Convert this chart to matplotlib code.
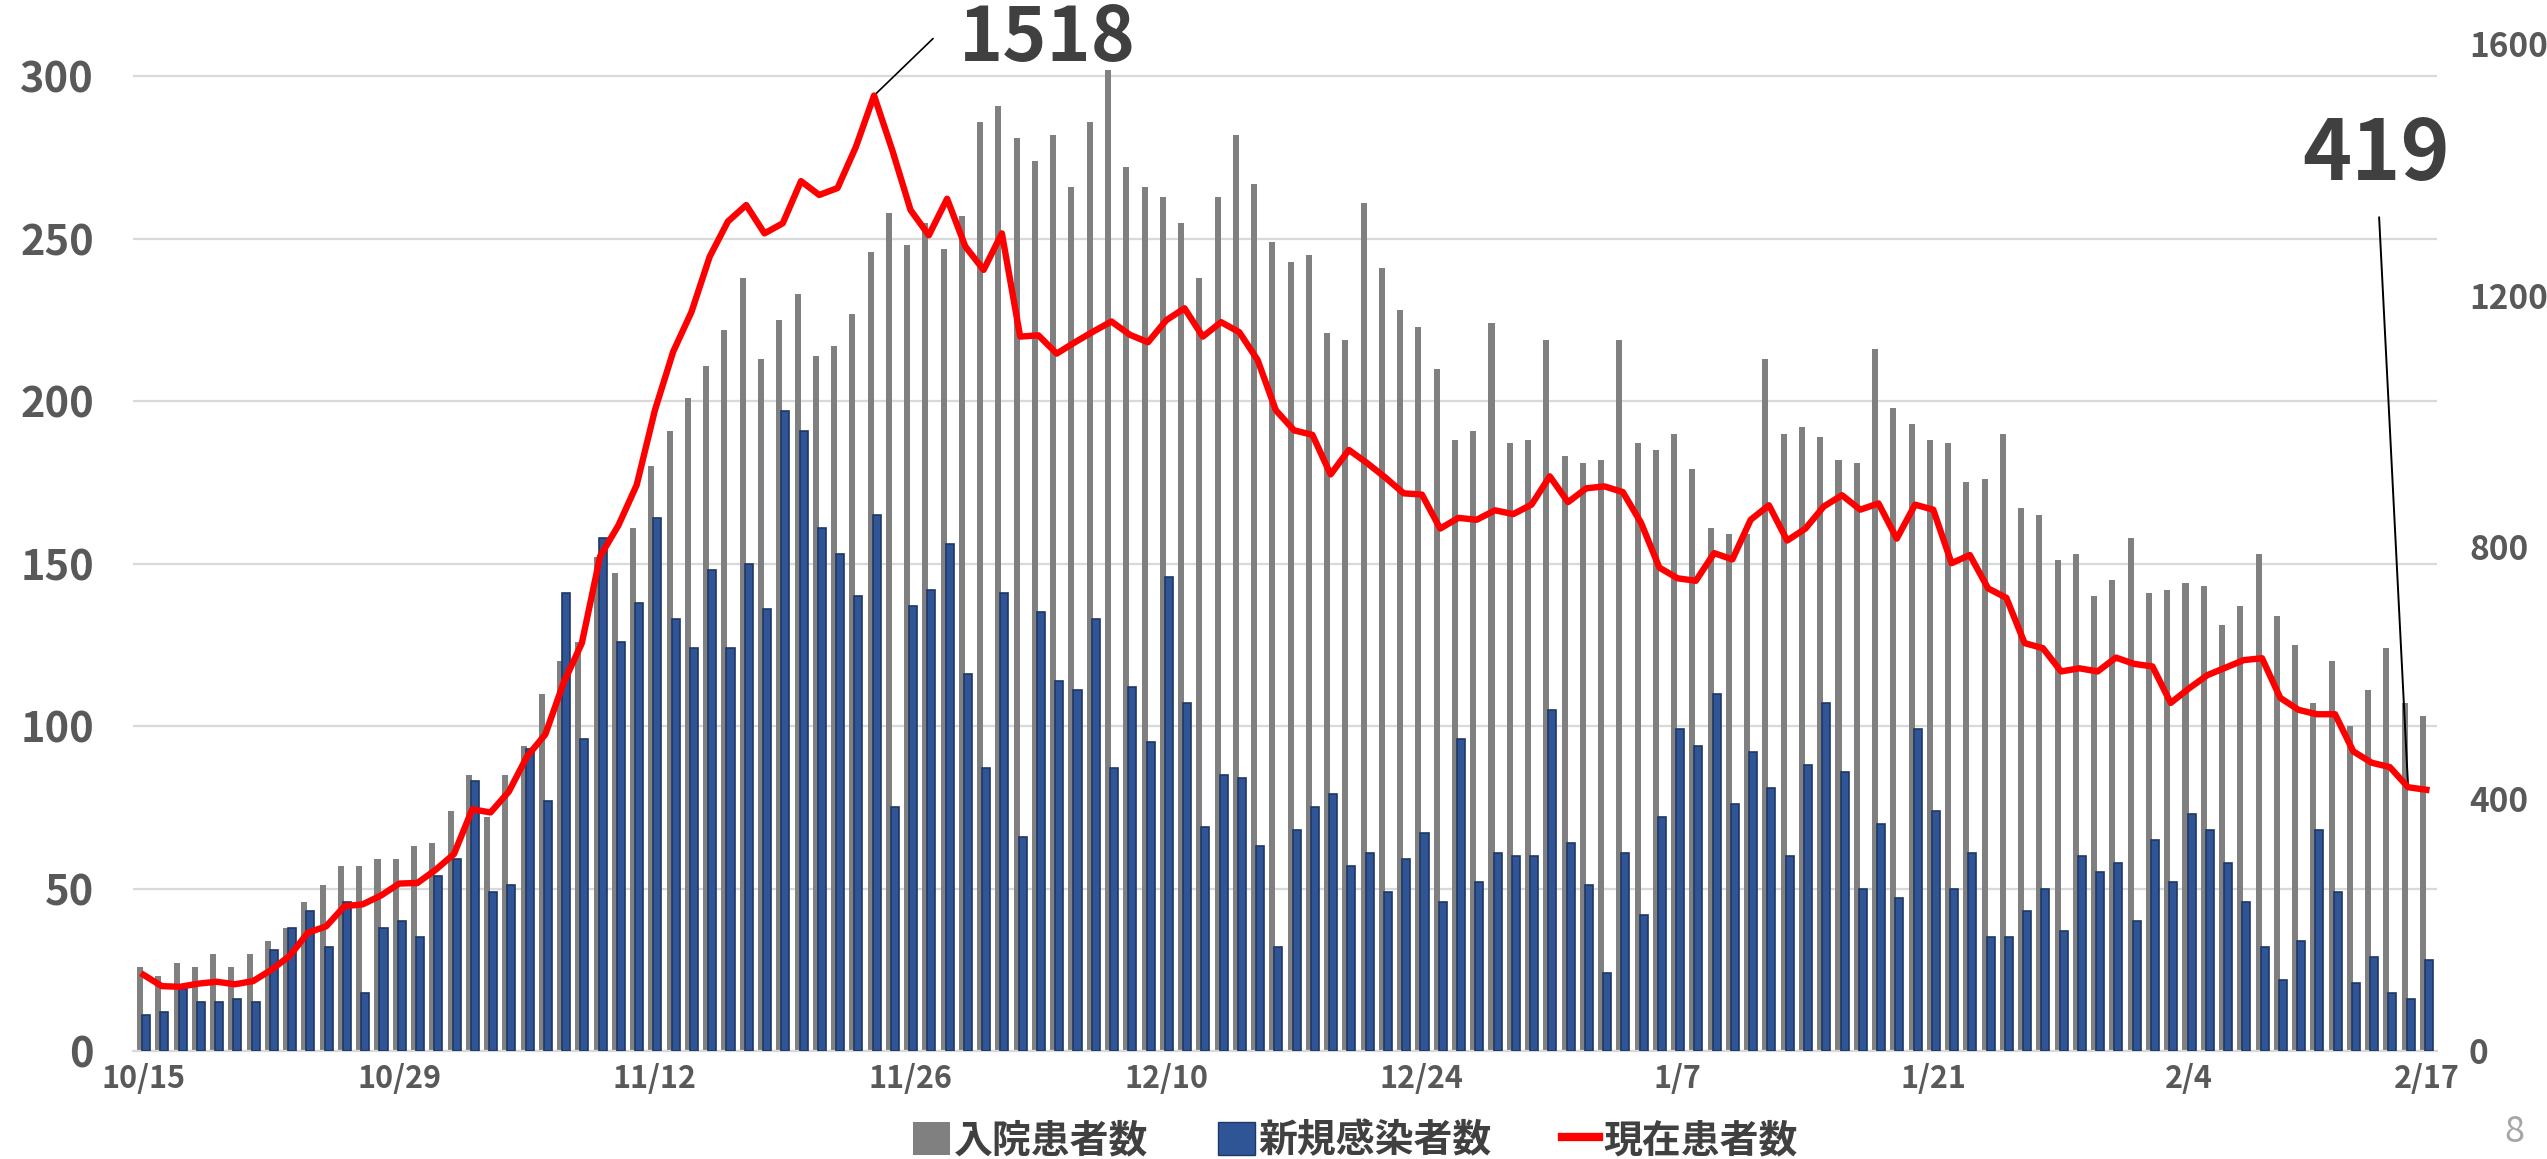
import numpy as np
import pandas as pd
import matplotlib
matplotlib.use('Agg')
import matplotlib.pyplot as plt
from matplotlib.patches import Patch
from matplotlib.lines import Line2D

plt.rcParams['font.family'] = ['Noto Sans CJK JP', 'DejaVu Sans']

# 日付 10/15 - 2/17
dates = pd.date_range('2020-10-15', '2021-02-17', freq='D')
tick_labels = ['10/15', '10/29', '11/12', '11/26', '12/10', '12/24', '1/7', '1/21', '2/4', '2/17']

# 入院患者数 (左軸)
inpatients = [26, 23, 27, 26, 30, 26, 30, 34, 38, 46, 51, 57, 57, 59, 59, 63, 64, 74, 85, 72,
              85, 94, 110, 120, 126, 152, 147, 161, 180, 191, 201, 211, 222, 238, 213, 225, 233, 214, 217, 227,
              246, 258, 248, 255, 247, 257, 286, 291, 281, 274, 282, 266, 286, 302, 272, 266, 263, 255, 238, 263,
              282, 267, 249, 243, 245, 221, 219, 261, 241, 228, 223, 210, 188, 191, 224, 187, 188, 219, 183, 181,
              182, 219, 187, 185, 190, 179, 161, 159, 159, 213, 190, 192, 189, 182, 181, 216, 198, 193, 188, 187,
              175, 176, 190, 167, 165, 151, 153, 140, 145, 158, 141, 142, 144, 143, 131, 137, 153, 134, 125, 107,
              120, 100, 111, 124, 107, 103]

# 新規感染者数 (左軸)
new_cases = [11, 12, 19, 15, 15, 16, 15, 31, 38, 43, 32, 46, 18, 38, 40, 35, 54, 59, 83, 49,
             51, 93, 77, 141, 96, 158, 126, 138, 164, 133, 124, 148, 124, 150, 136, 197, 191, 161, 153, 140,
             165, 75, 137, 142, 156, 116, 87, 141, 66, 135, 114, 111, 133, 87, 112, 95, 146, 107, 69, 85,
             84, 63, 32, 68, 75, 79, 57, 61, 49, 59, 67, 46, 96, 52, 61, 60, 60, 105, 64, 51,
             24, 61, 42, 72, 99, 94, 110, 76, 92, 81, 60, 88, 107, 86, 50, 70, 47, 99, 74, 50,
             61, 35, 35, 43, 50, 37, 60, 55, 58, 40, 65, 52, 73, 68, 58, 46, 32, 22, 34, 68,
             49, 21, 29, 18, 16, 28]

# 現在患者数 (右軸)
current = [121, 103, 102, 107, 110, 106, 111, 129, 151, 188, 198, 230, 233, 247, 266, 267, 288, 313, 384, 379,
           412, 468, 503, 585, 648, 786, 835, 899, 1018, 1111, 1174, 1262, 1318, 1344, 1299, 1315, 1382, 1360, 1371, 1436,
           1518, 1431, 1336, 1296, 1354, 1278, 1241, 1299, 1135, 1137, 1108, 1126, 1143, 1159, 1138, 1126, 1161, 1180, 1135, 1158,
           1142, 1098, 1018, 986, 979, 916, 955, 934, 911, 886, 884, 830, 847, 844, 859, 853, 868, 913, 872, 894,
           897, 888, 839, 768, 751, 747, 791, 781, 844, 867, 811, 830, 865, 883, 860, 870, 814, 868, 860, 775,
           788, 735, 720, 648, 640, 603, 608, 603, 625, 615, 611, 553, 576, 597, 609, 621, 624, 561, 542, 535,
           535, 476, 458, 451, 419, 415]

x = np.arange(len(dates))
day_str = [f'{d.month}/{d.day}' for d in dates]
tick_pos = [day_str.index(t) for t in tick_labels]

fig = plt.figure(figsize=(25.47, 11.59), dpi=100)
ax = fig.add_axes([0.0522, 0.0932, 0.9046, 0.8689])

ax.bar(x - 0.19, inpatients, width=0.33, color='#808080', zorder=2)
ax.bar(x + 0.14, new_cases, width=0.44, color='#2F5597', edgecolor='#1F3864', linewidth=1.2, zorder=3)

ax.set_xlim(-0.58, len(x) - 0.42)
ax.set_ylim(0, 310)
ax.set_yticks(range(0, 301, 50))
ax.set_axisbelow(True)
ax.yaxis.grid(True, color='#d9d9d9', lw=1.6)
for s in ['top', 'left', 'right']:
    ax.spines[s].set_visible(False)
ax.spines['bottom'].set_color('#d9d9d9')
ax.spines['bottom'].set_linewidth(1.6)

ax.set_xticks(tick_pos)
ax.set_xticklabels(tick_labels, fontsize=22, fontweight='bold', color='#595959')
ax.tick_params(axis='x', length=0, pad=9)
ax.tick_params(axis='y', length=0, pad=28, labelsize=30, labelcolor='#595959')
for lbl in ax.get_yticklabels():
    lbl.set_fontweight('bold')

ax2 = ax.twinx()
ax2.plot(x, current, color='#FF0000', lw=4.6, zorder=4, solid_joinstyle='round')
ax2.set_ylim(0, 1600)
ax2.set_yticks([0, 400, 800, 1200, 1600])
ax2.tick_params(axis='y', length=0, pad=23, labelsize=24, labelcolor='#595959')
for lbl in ax2.get_yticklabels():
    lbl.set_fontweight('bold')
for s in ax2.spines.values():
    s.set_visible(False)

# ピークと最新値の注記
i_peak = int(np.argmax(current))
ax2.annotate('', xy=(i_peak, current[i_peak]), xytext=(59, 57), textcoords='offset pixels',
             arrowprops=dict(arrowstyle='-', color='black', lw=1.2, shrinkA=0, shrinkB=0))
ax2.annotate('', xy=(i_peak + 59 / 18.27, current[i_peak] + 57 * 1600 / 1007), xytext=(11, 0),
             textcoords='offset pixels',
             arrowprops=dict(arrowstyle='-', color='black', lw=1.2, shrinkA=0, shrinkB=0))
ax2.annotate(str(current[i_peak]), xy=(i_peak, current[i_peak]), xytext=(85, 57), textcoords='offset pixels',
             fontsize=54, fontweight='bold', color='#404040', ha='left', va='center')

i_last = len(current) - 2
ax2.annotate('', xy=(i_last, current[i_last]), xytext=(-29, 570), textcoords='offset pixels',
             arrowprops=dict(arrowstyle='-', color='black', lw=1.4, shrinkA=0, shrinkB=0))
ax2.annotate(str(current[i_last]), xy=(i_last, current[i_last]), xytext=(-32, 632), textcoords='offset pixels',
             fontsize=60, fontweight='bold', color='#404040', ha='center', va='center')

handles = [Patch(facecolor='#808080'),
           Patch(facecolor='#2F5597', edgecolor='#1F3864'),
           Line2D([], [], color='#FF0000', lw=6)]
labels = ['入院患者数', '新規感染者数', '現在患者数']
fig.legend(handles, labels, loc='center', bbox_to_anchor=(0.532, 0.016), ncol=3, frameon=False,
           prop={'size': 28, 'weight': 'bold'}, labelcolor='#404040',
           handlelength=0.95, handleheight=0.95, handletextpad=0.1, columnspacing=1.8)

fig.text(2514 / 2547, 1 - 1132 / 1159, '8', fontsize=26, color='#a6a6a6', ha='center', va='center')

fig.savefig('out.png', dpi=100)
